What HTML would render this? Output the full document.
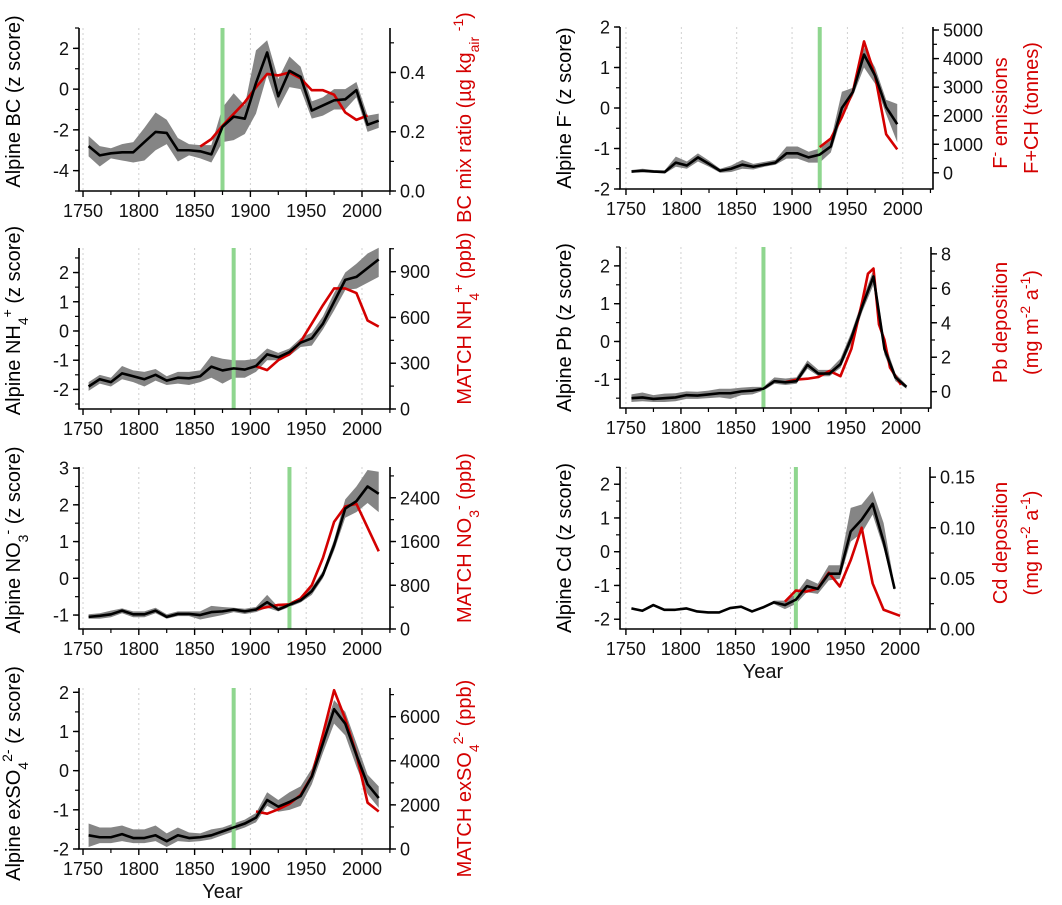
<!DOCTYPE html>
<html><head><meta charset="utf-8"><style>
html,body{margin:0;padding:0;background:#fff}
svg{display:block;font-family:"Liberation Sans",Arial,sans-serif}
</style></head><body>
<svg id="fig" width="1062" height="905" viewBox="0 0 1062 905" xmlns="http://www.w3.org/2000/svg"></svg>
<script>
// ---------- data ----------
const decades = [1755,1765,1775,1785,1795,1805,1815,1825,1835,1845,1855,1865,1875,1885,1895,1905,1915,1925,1935,1945,1955,1965,1975,1985,1995,2005,2015];

const bcZ   = [-2.8,-3.25,-3.15,-3.1,-3.1,-2.6,-2.1,-2.15,-3.0,-3.0,-3.05,-3.2,-1.85,-1.35,-1.45,0.3,1.8,-0.35,0.9,0.6,-1.05,-0.8,-0.55,-0.5,-0.05,-1.75,-1.55];
const bcHi  = [-2.3,-2.8,-2.9,-2.7,-2.6,-1.9,-1.15,-1.5,-2.4,-2.7,-2.75,-2.75,-0.9,-0.2,-0.8,1.9,2.4,0.5,1.6,1.1,-0.6,-0.4,0,0,0.35,-1.3,-1.2];
const bcLo  = [-3.3,-3.8,-3.4,-3.5,-3.6,-3.5,-3.0,-2.7,-3.55,-3.25,-3.4,-3.6,-2.6,-2.5,-2.2,-1.2,0.7,-0.95,0.1,0,-1.45,-1.3,-1.0,-1.0,-0.4,-2.1,-1.9];
const bcRedYears = [1855,1865,1875,1885,1895,1905,1915,1925,1935,1945,1955,1965,1975,1985,1995,2005];
const bcRed = [0.15,0.175,0.22,0.26,0.30,0.35,0.395,0.39,0.40,0.38,0.34,0.34,0.325,0.265,0.24,0.255];

const nh4Z  = [-1.9,-1.65,-1.75,-1.45,-1.55,-1.65,-1.5,-1.7,-1.6,-1.62,-1.55,-1.22,-1.35,-1.28,-1.32,-1.2,-0.8,-0.9,-0.72,-0.4,-0.25,0.25,1.0,1.75,1.85,2.15,2.45];
const nh4Hi = [-1.75,-1.5,-1.6,-1.2,-1.35,-1.4,-1.3,-1.55,-1.4,-1.4,-1.35,-0.85,-0.95,-1.0,-1.0,-0.95,-0.6,-0.75,-0.6,-0.25,-0.05,0.5,1.3,2.0,2.3,2.65,2.85];
const nh4Lo = [-2.05,-1.8,-1.9,-1.65,-1.75,-1.9,-1.7,-1.85,-1.8,-1.85,-1.75,-1.6,-1.8,-1.6,-1.6,-1.4,-1.0,-1.0,-0.85,-0.55,-0.5,0.05,0.7,1.4,1.45,1.65,1.85];
const nh4RedYears = [1905,1915,1925,1935,1945,1955,1965,1975,1985,1995,2005,2015];
const nh4Red = [280,255,320,360,440,560,680,790,790,760,580,540];

const no3Z  = [-1.05,-1.02,-0.98,-0.88,-0.98,-0.98,-0.88,-1.05,-0.97,-0.97,-1.0,-0.92,-0.9,-0.85,-0.9,-0.85,-0.65,-0.85,-0.72,-0.6,-0.35,0.1,0.9,1.9,2.1,2.5,2.3];
const no3Hi = [-0.98,-0.95,-0.88,-0.82,-0.9,-0.9,-0.8,-0.98,-0.9,-0.9,-0.9,-0.75,-0.78,-0.8,-0.83,-0.78,-0.45,-0.78,-0.65,-0.53,-0.25,0.2,1.05,2.15,2.5,2.95,2.9];
const no3Lo = [-1.1,-1.1,-1.06,-0.95,-1.06,-1.06,-0.95,-1.1,-1.03,-1.03,-1.12,-1.06,-1.0,-0.92,-0.97,-0.92,-0.8,-0.9,-0.78,-0.66,-0.45,0.0,0.75,1.65,1.8,2.05,1.8];
const no3RedYears = [1905,1915,1925,1935,1945,1955,1965,1975,1985,1995,2015];
const no3Red = [360,400,440,450,560,800,1300,1960,2240,2290,1420];

const so4Z  = [-1.65,-1.7,-1.7,-1.62,-1.72,-1.72,-1.65,-1.8,-1.65,-1.72,-1.7,-1.65,-1.55,-1.45,-1.35,-1.2,-0.75,-0.92,-0.8,-0.65,-0.15,0.7,1.57,1.2,0.4,-0.35,-0.7];
const so4Hi = [-1.35,-1.45,-1.45,-1.4,-1.5,-1.5,-1.4,-1.6,-1.45,-1.58,-1.6,-1.5,-1.45,-1.35,-1.25,-1.08,-0.55,-0.75,-0.55,-0.4,0.05,0.9,1.8,1.5,0.7,-0.1,-0.4];
const so4Lo = [-1.95,-1.85,-1.85,-1.8,-1.85,-1.85,-1.8,-1.95,-1.8,-1.82,-1.8,-1.75,-1.65,-1.55,-1.45,-1.32,-0.9,-1.05,-1.0,-0.9,-0.35,0.45,1.2,0.9,0.1,-0.6,-0.95];
const so4RedYears = [1905,1915,1925,1935,1945,1955,1965,1975,1985,1995,2005,2015];
const so4Red = [1700,1600,1800,2050,2450,3300,5200,7200,5900,4300,2100,1700];

const fYears = decades.slice(0,25);
const fZ    = [-1.57,-1.55,-1.57,-1.58,-1.35,-1.42,-1.22,-1.38,-1.55,-1.5,-1.4,-1.45,-1.4,-1.35,-1.12,-1.12,-1.22,-1.15,-0.95,0.0,0.4,1.32,0.8,0.02,-0.4];
const fHi   = [-1.53,-1.5,-1.53,-1.54,-1.2,-1.32,-1.12,-1.3,-1.5,-1.42,-1.28,-1.38,-1.33,-1.28,-0.95,-0.95,-1.08,-1.0,-0.8,0.4,0.5,1.5,1.0,0.2,0.1];
const fLo   = [-1.6,-1.58,-1.6,-1.62,-1.45,-1.5,-1.32,-1.45,-1.6,-1.58,-1.5,-1.52,-1.45,-1.4,-1.25,-1.25,-1.35,-1.35,-1.1,-0.2,0.3,1.0,0.6,-0.15,-0.85];
const fRedYears = [1925,1935,1945,1955,1965,1975,1985,1995];
const fRed  = [900,1200,1950,2850,4600,3400,1350,820];

const pbYears = decades.slice(0,26);
const pbZ   = [-1.5,-1.48,-1.52,-1.5,-1.48,-1.42,-1.43,-1.4,-1.37,-1.37,-1.32,-1.3,-1.25,-1.05,-1.08,-1.05,-0.62,-0.85,-0.85,-0.6,0.1,0.95,1.72,-0.2,-0.95,-1.2];
const pbHi  = [-1.4,-1.35,-1.42,-1.38,-1.37,-1.32,-1.33,-1.3,-1.25,-1.25,-1.22,-1.2,-1.2,-0.95,-0.98,-0.95,-0.5,-0.75,-0.75,-0.45,0.25,1.1,1.9,0,-0.85,-1.15];
const pbLo  = [-1.6,-1.58,-1.6,-1.6,-1.58,-1.52,-1.52,-1.5,-1.48,-1.52,-1.42,-1.4,-1.3,-1.12,-1.15,-1.12,-0.72,-0.92,-0.92,-0.7,-0.05,0.8,1.5,-0.35,-1.05,-1.25];
const pbRedYears = [1895,1905,1915,1925,1935,1945,1955,1965,1970,1975,1980,1985,1990,2000];
const pbRed = [0.55,0.7,0.75,0.85,1.2,0.9,2.5,5.3,6.85,7.15,3.9,3.0,1.4,0.4];

const cdYears = decades.slice(0,25);
const cdZ   = [-1.68,-1.75,-1.58,-1.72,-1.72,-1.68,-1.77,-1.8,-1.8,-1.67,-1.63,-1.77,-1.65,-1.5,-1.58,-1.42,-1.02,-1.1,-0.65,-0.65,0.6,0.95,1.42,0.3,-1.1];
const cdHi  = [-1.68,-1.75,-1.58,-1.72,-1.72,-1.68,-1.77,-1.8,-1.8,-1.67,-1.63,-1.77,-1.65,-1.45,-1.45,-1.25,-0.8,-0.95,-0.4,-0.4,1.3,1.4,1.8,0.85,-1.0];
const cdLo  = [-1.68,-1.75,-1.58,-1.72,-1.72,-1.68,-1.77,-1.8,-1.8,-1.67,-1.63,-1.77,-1.65,-1.55,-1.7,-1.55,-1.2,-1.25,-0.85,-0.8,0.3,0.55,1.1,0.1,-1.15];
const cdRedYears = [1895,1905,1915,1925,1935,1945,1955,1965,1975,1985,2000];
const cdRed = [0.027,0.038,0.037,0.040,0.0555,0.042,0.068,0.100,0.045,0.019,0.013];

const xTicks = [1750,1800,1850,1900,1950,2000];
const xMinor = [1775,1825,1875,1925,1975,2025];

// ---------- drawing ----------
const NS="http://www.w3.org/2000/svg";
const svg=document.getElementById('fig');
function mk(tag,attrs,parent){const e=document.createElementNS(NS,tag);for(const k in attrs)e.setAttribute(k,attrs[k]);(parent||svg).appendChild(e);return e;}
function lin(d0,d1,r0,r1){return v=>r0+(v-d0)/(d1-d0)*(r1-r0);}

function title(g,x,y,parts,color,name){
  const t=mk('text',{x:x,y:y,transform:'rotate(-90 '+x+' '+y+')','text-anchor':'middle','font-size':20,fill:color},g);
  
  
  parts.forEach(p=>{
    const s=mk('tspan',{},t);
    if(p[1]==='sup'){s.setAttribute('baseline-shift','super');s.setAttribute('font-size',14);}
    if(p[1]==='sub'){s.setAttribute('baseline-shift','sub');s.setAttribute('font-size',14);}
    s.textContent=p[0];
  });
}

function panel(c){
  const g=mk('g',{});
  
  
  const X=lin(c.xd[0],c.xd[1],c.x0,c.x1);
  const YL=lin(c.ld[0],c.ld[1],c.y1,c.y0);
  const YR=lin(c.rd[0],c.rd[1],c.y1,c.y0);
  xTicks.forEach(v=>{const gl=mk('line',{x1:X(v),x2:X(v),y1:c.y0,y2:c.y1,stroke:'#d0d0d0','stroke-width':1,'stroke-dasharray':'2,3'},g);
    
    });
  let pts=c.years.map((y,i)=>X(y)+','+YL(c.hi[i]));
  pts=pts.concat(c.years.map((y,i)=>X(y)+','+YL(c.lo[i])).reverse());
  const band=mk('polygon',{points:pts.join(' '),fill:'#858585',stroke:'none'},g);
  
  
  const gm=mk('line',{x1:X(c.green),x2:X(c.green),y1:c.y0,y2:c.y1,stroke:'#8fd68f','stroke-width':4},g);
  
  
  const red=mk('polyline',{points:c.ry.map((y,i)=>X(y)+','+YR(c.rv[i])).join(' '),fill:'none',stroke:'#d40000','stroke-width':2.6,'stroke-linejoin':'round'},g);
  
  
  const bl=mk('polyline',{points:c.years.map((y,i)=>X(y)+','+YL(c.z[i])).join(' '),fill:'none',stroke:'#000','stroke-width':2.6,'stroke-linejoin':'round'},g);
  
  
  const ax=mk('path',{d:`M${c.x0},${c.y0}V${c.y1}H${c.x1}V${c.y0}`,fill:'none',stroke:'#000','stroke-width':1.6},g);
  
  
  xTicks.forEach(v=>{mk('line',{x1:X(v),x2:X(v),y1:c.y1,y2:c.y1+6,stroke:'#000','stroke-width':1.4},g);
    const t=mk('text',{x:X(v),y:c.y1+26,'text-anchor':'middle','font-size':18,fill:'#111'},g);
    
    
    t.textContent=v;});
  xMinor.forEach(v=>{if(X(v)<=c.x1+0.5)mk('line',{x1:X(v),x2:X(v),y1:c.y1,y2:c.y1+4,stroke:'#000','stroke-width':1.2},g);});
  c.lt.forEach(v=>{mk('line',{x1:c.x0-6,x2:c.x0,y1:YL(v),y2:YL(v),stroke:'#000','stroke-width':1.4},g);
    const t=mk('text',{x:c.x0-10,y:YL(v)+6.5,'text-anchor':'end','font-size':18,fill:'#111'},g);
    
    
    t.textContent=v;});
  c.lm.forEach(v=>{const y=YL(v);if(y>=c.y0-0.5&&y<=c.y1+0.5)mk('line',{x1:c.x0-4,x2:c.x0,y1:y,y2:y,stroke:'#000','stroke-width':1.2},g);});
  c.rt.forEach(v=>{mk('line',{x1:c.x1,x2:c.x1+6,y1:YR(v),y2:YR(v),stroke:'#000','stroke-width':1.4},g);
    const t=mk('text',{x:c.x1+10,y:YR(v)+6.5,'text-anchor':'start','font-size':18,fill:'#111'},g);
    
    
    t.textContent=c.rf?v.toFixed(c.rf):v;});
  c.rm.forEach(v=>{const y=YR(v);if(y>=c.y0-0.5&&y<=c.y1+0.5)mk('line',{x1:c.x1,x2:c.x1+4,y1:y,y2:y,stroke:'#000','stroke-width':1.2},g);});
  const mid=(c.y0+c.y1)/2;
  title(g,c.ltx,mid+(c.lty||0),c.ltitle,'#000','left-axis-title');
  c.rtitles.forEach((rt,i)=>title(g,rt.x,mid+(rt.dy||0),rt.parts,'#d40000','right-axis-title'));
  if(c.year){const t=mk('text',{x:(c.x0+c.x1)/2-12,y:c.y1+49,'text-anchor':'middle','font-size':20,fill:'#111'},g);
    
    
    t.textContent='Year';}
}
function range(a,b,s){const r=[];for(let v=a;v<=b+1e-9;v+=s)r.push(+v.toFixed(4));return r;}
const LX=[1746.4,2025.1], RX=[1744.6,2027.3];

panel({name:'panel-bc',x0:79,x1:390,y0:28,y1:191,xd:LX,ld:[-5,3],rd:[0,0.55],years:decades,z:bcZ,hi:bcHi,lo:bcLo,ry:bcRedYears,rv:bcRed,green:1875,
 lt:[-4,-2,0,2],lm:range(-5,3,1),rt:[0,0.2,0.4],rm:range(0,0.5,0.1),rf:1,ltx:20,lty:-8,
 ltitle:[['Alpine BC (z score)']],rtitles:[{x:471,dy:8,parts:[['BC mix ratio (µg kg'],['air','sub'],[' '],['-1','sup'],[')']]}]});
panel({name:'panel-nh4',x0:79,x1:390,y0:248,y1:409,xd:LX,ld:[-2.67,2.84],rd:[0,1055],years:decades,z:nh4Z,hi:nh4Hi,lo:nh4Lo,ry:nh4RedYears,rv:nh4Red,green:1885,
 lt:[-2,-1,0,1,2],lm:range(-2.5,2.5,0.5),rt:[0,300,600,900],rm:range(0,1050,150),ltx:20,lty:-8,
 ltitle:[['Alpine NH'],['4','sub'],['+','sup'],[' (z score)']],rtitles:[{x:471,dy:-10,parts:[['MATCH NH'],['4','sub'],['+','sup'],[' (ppb)']]}]});
panel({name:'panel-no3',x0:79,x1:390,y0:467,y1:629,xd:LX,ld:[-1.38,3.03],rd:[0,2963],years:decades,z:no3Z,hi:no3Hi,lo:no3Lo,ry:no3RedYears,rv:no3Red,green:1935,
 lt:[-1,0,1,2,3],lm:range(-1,3,0.5),rt:[0,800,1600,2400],rm:range(0,2800,400),ltx:20,lty:-8,
 ltitle:[['Alpine NO'],['3','sub'],['-','sup'],[' (z score)']],rtitles:[{x:471,dy:-10,parts:[['MATCH NO'],['3','sub'],['-','sup'],[' (ppb)']]}]});
panel({name:'panel-so4',x0:79,x1:390,y0:688,y1:849,xd:LX,ld:[-2,2.11],rd:[0,7300],years:decades,z:so4Z,hi:so4Hi,lo:so4Lo,ry:so4RedYears,rv:so4Red,green:1885,
 lt:[-2,-1,0,1,2],lm:range(-2,2,0.5),rt:[0,2000,4000,6000],rm:range(0,7000,1000),ltx:20,lty:5,year:true,
 ltitle:[['Alpine exSO'],['4','sub'],['2-','sup'],[' (z score)']],rtitles:[{x:471,dy:10,parts:[['MATCH exSO'],['4','sub'],['2-','sup'],[' (ppb)']]}]});
panel({name:'panel-f',x0:620,x1:933,y0:27,y1:189,xd:RX,ld:[-2,2],rd:[-567,5106],years:fYears,z:fZ,hi:fHi,lo:fLo,ry:fRedYears,rv:fRed,green:1925,
 lt:[-2,-1,0,1,2],lm:range(-2,2,0.5),rt:[0,1000,2000,3000,4000,5000],rm:range(0,5000,500),ltx:571,
 ltitle:[['Alpine F'],['-','sup'],[' (z score)']],rtitles:[{x:1007,dy:5,parts:[['F'],['-','sup'],[' emissions']]},{x:1038,dy:0,parts:[['F+CH (tonnes)']]}]});
panel({name:'panel-pb',x0:620,x1:931,y0:247,y1:408,xd:RX,ld:[-1.76,2.5],rd:[-0.95,8.4],years:pbYears,z:pbZ,hi:pbHi,lo:pbLo,ry:pbRedYears,rv:pbRed,green:1875,
 lt:[-1,0,1,2],lm:range(-1.5,2.5,0.5),rt:[0,2,4,6,8],rm:range(0,8,1),ltx:571,
 ltitle:[['Alpine Pb (z score)']],rtitles:[{x:1007,dy:-5,parts:[['Pb deposition']]},{x:1038,dy:-5,parts:[['(mg m'],['-2','sup'],[' a'],['-1','sup'],[')']]}]});
panel({name:'panel-cd',x0:620,x1:930,y0:467,y1:629,xd:RX,ld:[-2.29,2.51],rd:[0,0.160],years:cdYears,z:cdZ,hi:cdHi,lo:cdLo,ry:cdRedYears,rv:cdRed,green:1905,
 lt:[-2,-1,0,1,2],lm:range(-2,2.5,0.5),rt:[0,0.05,0.10,0.15],rm:range(0,0.15,0.025),rf:2,ltx:571,year:true,
 ltitle:[['Alpine Cd (z score)']],rtitles:[{x:1007,dy:-5,parts:[['Cd deposition']]},{x:1038,dy:-5,parts:[['(mg m'],['-2','sup'],[' a'],['-1','sup'],[')']]}]});
</script>
</body></html>
